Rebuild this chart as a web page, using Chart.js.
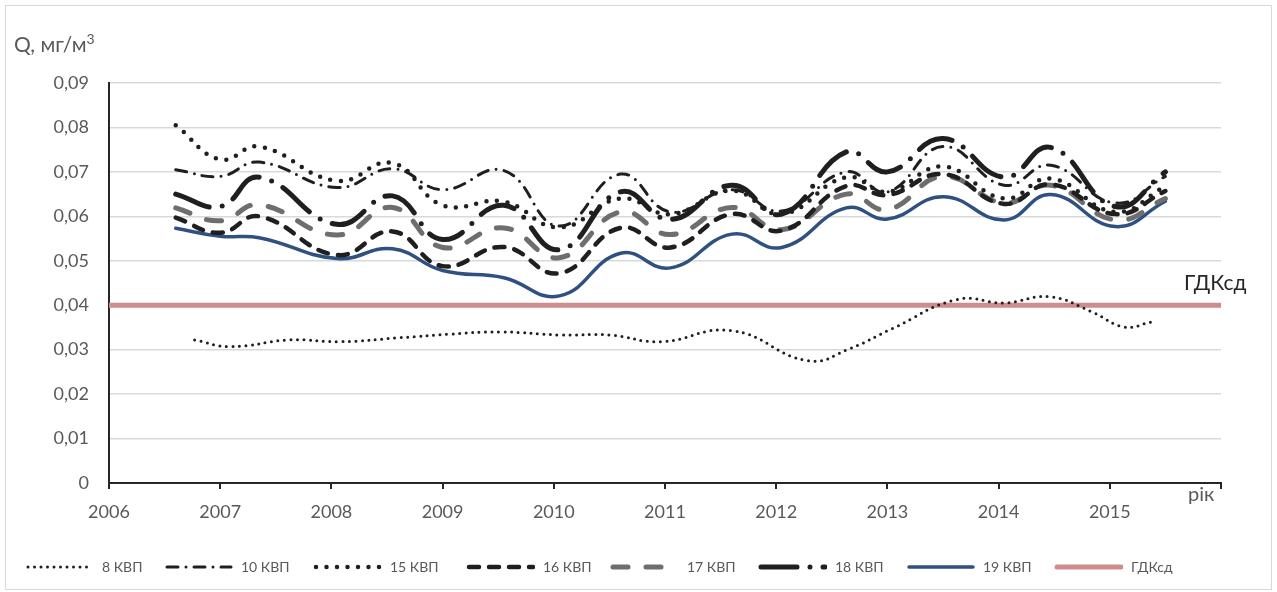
<!DOCTYPE html>
<html>
<head>
<meta charset="utf-8">
<script src="https://cdn.jsdelivr.net/npm/chart.js@4.4.1/dist/chart.umd.min.js"></script>
<style>
  html, body { margin: 0; padding: 0; background: #fff; }
  #wrap { position: relative; width: 1277px; height: 592px; }
  #frame { position: absolute; left: 5px; top: 5px; width: 1265px; height: 583px; border: 1px solid #d9d9d9; }
  canvas { position: absolute; left: 0; top: 0; }
  .lbl { position: absolute; font-family: Lato, sans-serif; color: #595959; white-space: nowrap; }
</style>
</head>
<body>
<div id="wrap">
  <div id="frame"></div>
  <canvas id="chart" width="1277" height="592"></canvas>
  <div class="lbl" style="left:14px; top:30px; font-size:21px;">Q, мг/м<sup style="font-size:14px">3</sup></div>
  <div class="lbl" style="left:1188px; top:481px; font-size:20px;">рік</div>
  <div class="lbl" style="left:1184px; top:269px; font-size:21px; color:#262626;">ГДКсд</div>
</div>
<script>
// sampling dates (fraction of year) shared by most wells
const years = [2006.6, 2007.0, 2007.35, 2008.05, 2008.55, 2009.0, 2009.55, 2010.05, 2010.6, 2011.05,
  2011.6, 2012.05, 2012.63, 2013.0, 2013.5, 2014.05, 2014.47, 2015.05, 2015.5];
// well 8 has its own dates
const years8 = [2006.77, 2007.09, 2007.63, 2008.08, 2008.62, 2009.07, 2009.52, 2010.06, 2010.5, 2010.96,
  2011.6, 2012.29, 2012.66, 2013.04, 2013.63, 2014.05, 2014.46, 2014.84, 2015.13, 2015.37];

const kvp8 = [0.0322, 0.0307, 0.0322, 0.0318, 0.0327, 0.0335, 0.0340, 0.0333, 0.0333, 0.0318,
  0.0343, 0.0275, 0.0302, 0.0347, 0.0413, 0.0405, 0.0419, 0.0385, 0.0351, 0.0362];
const kvp10 = [0.0705, 0.0690, 0.0722, 0.0665, 0.0707, 0.0660, 0.0703, 0.0578, 0.0695, 0.0610,
  0.0660, 0.0612, 0.0700, 0.0655, 0.0757, 0.0670, 0.0715, 0.0630, 0.0690];
const kvp15 = [0.0805, 0.0728, 0.0757, 0.0680, 0.0720, 0.0625, 0.0633, 0.0575, 0.0640, 0.0605,
  0.0658, 0.0605, 0.0688, 0.0655, 0.0712, 0.0640, 0.0685, 0.0610, 0.0668];
const kvp16 = [0.0597, 0.0563, 0.0600, 0.0513, 0.0566, 0.0488, 0.0531, 0.0472, 0.0574, 0.0530,
  0.0605, 0.0568, 0.0668, 0.0648, 0.0695, 0.0628, 0.0672, 0.0605, 0.0657];
const kvp17 = [0.0619, 0.0590, 0.0626, 0.0558, 0.0620, 0.0530, 0.0574, 0.0507, 0.0610, 0.0559,
  0.0620, 0.0570, 0.0650, 0.0615, 0.0690, 0.0630, 0.0670, 0.0592, 0.0640];
const kvp18 = [0.0650, 0.0622, 0.0688, 0.0582, 0.0646, 0.0548, 0.0625, 0.0525, 0.0655, 0.0593,
  0.0670, 0.0605, 0.0745, 0.0700, 0.0775, 0.0688, 0.0755, 0.0622, 0.0700];
const kvp19 = [0.0573, 0.0555, 0.0552, 0.0505, 0.0527, 0.0478, 0.0462, 0.0421, 0.0517, 0.0484,
  0.0560, 0.0530, 0.0619, 0.0594, 0.0644, 0.0592, 0.0649, 0.0577, 0.0634];
// limit value (ГДК середньодобова)
const gdkYears = [2006, 2016];
const gdkValues = [0.04, 0.04];

const xTicks = [2006, 2007, 2008, 2009, 2010, 2011, 2012, 2013, 2014, 2015];

// where each legend label starts (text x), legend row is drawn by hand
const legendTextX = [102, 241, 390, 543, 687, 835, 983, 1131];

const toPoints = (xs, ys) => xs.map((x, i) => ({ x: x, y: ys[i] }));

function series(label, xs, ys, color, width, dash) {
  return {
    label: label,
    data: toPoints(xs, ys),
    borderColor: color,
    backgroundColor: color,
    borderWidth: width,
    borderDash: dash,
    borderCapStyle: "round",
    pointRadius: 0,
    fill: false,
    tension: 0.45,
  };
}

// simple legend: line sample with the dataset's own dash + label
const lineLegend = {
  id: "lineLegend",
  afterDraw(chart) {
    const ctx = chart.ctx;
    const y = 567;
    chart.data.datasets.forEach((ds, i) => {
      const tx = legendTextX[i];
      ctx.save();
      ctx.beginPath();
      ctx.rect(tx - 78, y - 10, 70, 20);
      ctx.clip();
      ctx.strokeStyle = ds.borderColor;
      ctx.lineWidth = ds.borderWidth;
      ctx.lineCap = "round";
      ctx.setLineDash(ds.borderDash);
      ctx.beginPath();
      ctx.moveTo(tx - 74, y);
      ctx.lineTo(tx - 10, y);
      ctx.stroke();
      ctx.restore();
      ctx.save();
      ctx.fillStyle = "#595959";
      ctx.font = "14px Lato, sans-serif";
      ctx.textBaseline = "middle";
      ctx.fillText(ds.label, tx, y);
      ctx.restore();
    });
  },
};

Chart.defaults.font.family = "Lato, 'Open Sans', sans-serif";
Chart.defaults.color = "#595959";

new Chart(document.getElementById("chart"), {
  type: "line",
  data: {
    datasets: [
      series("8 КВП", years8, kvp8, "#1f1f1f", 3, [0, 6.5]),
      series("10 КВП", years, kvp10, "#1f1f1f", 3, [11, 8, 0, 8]),
      series("15 КВП", years, kvp15, "#1f1f1f", 4.5, [0, 10.5]),
      series("16 КВП", years, kvp16, "#1f1f1f", 4.5, [10, 10]),
      series("17 КВП", years, kvp17, "#6e6e6e", 5, [15, 18]),
      series("18 КВП", years, kvp18, "#1f1f1f", 5, [36, 13, 0, 13]),
      series("19 КВП", years, kvp19, "#2f5181", 3.5, []),
      series("ГДКсд", gdkYears, gdkValues, "#d08c8c", 5, []),
    ],
  },
  options: {
    responsive: false,
    animation: false,
    layout: { padding: { left: 0, right: 56, top: 83, bottom: 64 } },
    plugins: {
      tooltip: { enabled: false },
      legend: { display: false },
    },
    scales: {
      x: {
        type: "linear",
        min: 2006,
        max: 2016,
        afterFit: (s) => { s.height = 45; },
        afterBuildTicks: (s) => { s.ticks = xTicks.concat([2016]).map((v) => ({ value: v })); },
        border: { display: true, color: "#262626", width: 2 },
        grid: { drawOnChartArea: false, drawTicks: true, tickLength: 6, color: "#262626", lineWidth: 2 },
        ticks: {
          padding: 12,
          color: "#595959",
          font: { size: 18 },
          maxRotation: 0,
          autoSkip: false,
          callback: (v) => (xTicks.includes(v) ? String(v) : ""),
        },
      },
      y: {
        min: 0,
        max: 0.09,
        afterFit: (s) => { s.width = 109; },
        border: { display: true, color: "#262626", width: 2 },
        grid: { color: "#d9d9d9", lineWidth: 1.5, drawTicks: false },
        ticks: {
          stepSize: 0.01,
          padding: 20,
          color: "#595959",
          font: { size: 18 },
          callback: (v) => (v === 0 ? "0" : v.toFixed(2).replace(".", ",")),
        },
      },
    },
  },
  plugins: [lineLegend],
});
</script>
</body>
</html>
